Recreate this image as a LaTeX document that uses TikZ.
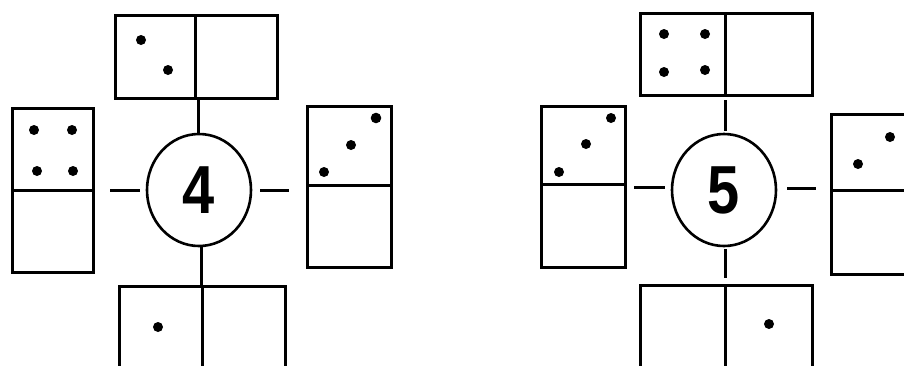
\documentclass[tikz,border=0pt]{standalone}
\usepackage{fontspec}
\setmainfont{Liberation Sans}
\usetikzlibrary{shapes.geometric}
\begin{document}
\begin{tikzpicture}[x=1pt,y=-1pt,
  tile/.style={draw=black,line width=3pt,fill=white,inner sep=0pt},
  link/.style={draw=black,line width=3pt},
  pip/.style={fill=black},
  hub/.style={draw=black,line width=2.6pt,ellipse,minimum width=104pt,minimum height=112pt,inner sep=0pt,
    font=\fontsize{68}{68}\selectfont\bfseries}]
\useasboundingbox (0,0) rectangle (904,365);
\clip (0,0) rectangle (904,365);
% ---------- left diagram ----------
\node[hub] (c1) at (199,190) {\scalebox{0.85}[1]{4}};
\node[tile,minimum width=162pt,minimum height=83pt] (t1) at (196,56.5) {};
\node[tile,minimum width=81pt,minimum height=164pt] (l1) at (52.5,190) {};
\node[tile,minimum width=84pt,minimum height=161pt] (r1) at (349,186.5) {};
\node[tile,minimum width=166pt,minimum height=100pt,anchor=north] (b1) at (202,285) {};
\draw[link] (195,15) -- (195,98);
\draw[link] (12,190) -- (93,190);
\draw[link] (307,185) -- (391,185);
\draw[link] (b1.north) -- (b1.south);
\coordinate (t1s) at (198,98);
\draw[link] (t1s) -- (c1.north -| t1s);
\coordinate (b1n) at (201,285);
\draw[link] (c1.south -| b1n) -- (b1n);
\coordinate (l1e) at (110,190);
\coordinate (l1c) at (140,190);
\draw[link] (l1e) -- (l1c);
\coordinate (r1c) at (260,190);
\coordinate (r1w) at (289,190);
\draw[link] (r1c) -- (r1w);
\fill[pip] (141,40) circle (5) (168,70) circle (5);
\fill[pip] (34,130) circle (5) (72,130) circle (5) (37,171) circle (5) (73,171) circle (5);
\fill[pip] (376,118) circle (5.3) (351,145) circle (5) (324,172) circle (5);
\fill[pip] (158,327) circle (5);
% ---------- right diagram ----------
\node[hub] (c2) at (724,190) {\scalebox{0.85}[1]{5}};
\node[tile,minimum width=172pt,minimum height=82pt] (t2) at (726,54) {};
\node[tile,minimum width=84pt,minimum height=161pt] (l2) at (583,186.5) {};
\node[tile,minimum width=100pt,minimum height=160pt,anchor=north west] (r2) at (830,113) {};
\node[tile,minimum width=172pt,minimum height=100pt,anchor=north] (b2) at (726,284) {};
\draw[link] (725,13) -- (725,95);
\draw[link] (541,184) -- (625,184);
\draw[link] (830,190) -- (930,190);
\draw[link] (725,284) -- (725,384);
\coordinate (t2s) at (725,100);
\coordinate (t2c) at (725,131);
\draw[link] (t2s) -- (t2c);
\coordinate (b2c) at (725,249);
\coordinate (b2n) at (725,278);
\draw[link] (b2c) -- (b2n);
\coordinate (l2e) at (634,187);
\coordinate (l2c) at (665,187);
\draw[link] (l2e) -- (l2c);
\coordinate (r2c) at (787,188);
\coordinate (r2w) at (816,188);
\draw[link] (r2c) -- (r2w);
\fill[pip] (664,34) circle (5) (705,34) circle (5) (664,72) circle (5) (705,70) circle (5);
\fill[pip] (611,118) circle (5) (586,144) circle (5) (559,172) circle (5);
\fill[pip] (890,137) circle (5) (858,164) circle (5);
\fill[pip] (769,324) circle (5);
\end{tikzpicture}
\end{document}
